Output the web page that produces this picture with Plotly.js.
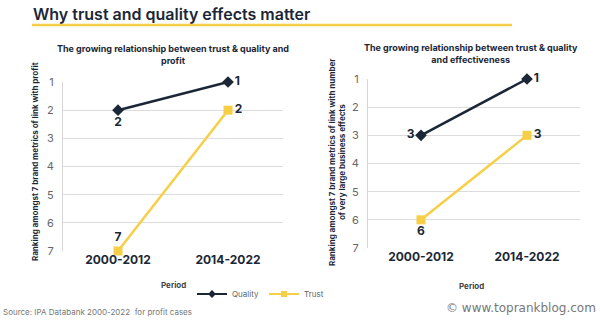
<!DOCTYPE html>
<html><head><meta charset="utf-8">
<script src="https://cdn.plot.ly/plotly-3.0.1.min.js"></script>
<style>html,body{margin:0;padding:0;background:#fff}#chart{width:600px;height:323px}</style>
</head><body><div id="chart"></div>
<script>
const periods = ["2000-2012", "2014-2022"];
const profitQuality = [2, 1];
const profitTrust = [7, 2];
const effQuality = [3, 1];
const effTrust = [6, 3];
const yTicks = [1, 2, 3, 4, 5, 6, 7];
const seriesNames = ["Quality", "Trust"];

const navy = "#1b2736";
const gold = "#f6cf47";
const font = "Inter, 'Open Sans', sans-serif";

function tr(y, xa, ya, name, color, sym, pos) {
  return {
    x: periods, y: y, xaxis: xa, yaxis: ya, name: name, showlegend: false,
    type: "scatter", mode: "lines+markers+text",
    line: {color: color, width: 2.5},
    marker: {color: color, symbol: sym, size: 9},
    text: y.map(String), textposition: pos,
    textfont: {family: font, size: 12, color: navy, weight: 700},
    cliponaxis: false
  };
}
function legendTrace(name, color, sym) {
  return {
    x: [null], y: [null], xaxis: "x", yaxis: "y", name: name, showlegend: true,
    type: "scatter", mode: "lines+markers",
    line: {color: color, width: 2}, marker: {color: color, symbol: sym, size: 6}
  };
}

const data = [
  tr(profitQuality, "x", "y", seriesNames[0], navy, "diamond", ["bottom center", "middle right"]),
  tr(profitTrust, "x", "y", seriesNames[1], gold, "square", ["top center", "middle right"]),
  tr(effQuality, "x2", "y2", seriesNames[0], navy, "diamond", ["middle left", "middle right"]),
  tr(effTrust, "x2", "y2", seriesNames[1], gold, "square", ["bottom center", "middle right"]),
  legendTrace(seriesNames[0], navy, "diamond"),
  legendTrace(seriesNames[1], gold, "square")
];

const xCommon = {
  type: "category", range: [-0.5, 1.5], showgrid: false, zeroline: false,
  showline: false, ticks: "",
  tickfont: {family: font, size: 12, color: navy, weight: 700}, fixedrange: true
};
const yCommon = {
  range: [7, 1], tickvals: yTicks, showgrid: true, gridcolor: "#dcdcdc", gridwidth: 1,
  zeroline: false, showline: true, linecolor: "#d6d6d6", linewidth: 1, ticks: "",
  tickfont: {family: font, size: 11, color: "#666"}, ticklabelstandoff: 6, fixedrange: true
};

const layout = {
  width: 600, height: 323,
  margin: {l: 0, r: 0, t: 0, b: 0},
  paper_bgcolor: "#ffffff", plot_bgcolor: "#ffffff",
  font: {family: font, color: navy},
  xaxis: Object.assign({}, xCommon, {domain: [63/600, 283/600], anchor: "y"}),
  yaxis: Object.assign({}, yCommon, {domain: [72/323, 241/323], anchor: "x"}),
  xaxis2: Object.assign({}, xCommon, {domain: [368/600, 580/600], anchor: "y2"}),
  yaxis2: Object.assign({}, yCommon, {domain: [75/323, 244/323], anchor: "x2"}),
  showlegend: true,
  legend: {
    orientation: "h", x: 192/600, xanchor: "left", y: (323-294)/323, yanchor: "middle",
    font: {family: font, size: 8, color: "#666"}, bgcolor: "rgba(0,0,0,0)",
    itemwidth: 30, tracegroupgap: 0
  },
  shapes: [
    {type: "line", xref: "paper", yref: "paper", x0: 32/600, x1: 512/600,
     y0: (323-25)/323, y1: (323-25)/323, line: {color: gold, width: 2.5}}
  ],
  annotations: [
    {text: "Why trust and quality effects matter", xref: "paper", yref: "paper",
     x: 31/600, y: (323-14)/323, xanchor: "left", yanchor: "middle", showarrow: false,
     font: {family: font, size: 16, color: navy, weight: 600}},
    {text: "The growing relationship between trust & quality and<br>profit", xref: "paper", yref: "paper",
     x: 173/600, y: (323-54)/323, xanchor: "center", yanchor: "middle", showarrow: false,
     font: {family: font, size: 9, color: navy, weight: 700}},
    {text: "The growing relationship between trust & quality<br>and effectiveness", xref: "paper", yref: "paper",
     x: 471/600, y: (323-53)/323, xanchor: "center", yanchor: "middle", showarrow: false,
     font: {family: font, size: 9, color: navy, weight: 700}},
    {text: "Ranking amongst 7 brand metrics of link with profit", xref: "paper", yref: "paper",
     x: 35/600, y: (323-162)/323, xanchor: "center", yanchor: "middle", textangle: -90, showarrow: false,
     font: {family: font, size: 8, color: navy, weight: 700}},
    {text: "Ranking amongst 7 brand metrics of link with number<br>of very large business effects", xref: "paper", yref: "paper",
     x: 337/600, y: (323-162)/323, xanchor: "center", yanchor: "middle", textangle: -90, showarrow: false,
     font: {family: font, size: 8, color: navy, weight: 700}},
    {text: "Period", xref: "paper", yref: "paper", x: 173/600, y: (323-285)/323,
     xanchor: "center", yanchor: "middle", showarrow: false,
     font: {family: font, size: 8, color: "#444", weight: 700}},
    {text: "Period", xref: "paper", yref: "paper", x: 471/600, y: (323-286)/323,
     xanchor: "center", yanchor: "middle", showarrow: false,
     font: {family: font, size: 8, color: "#444", weight: 700}},
    {text: "Source: IPA Databank 2000-2022  for profit cases", xref: "paper", yref: "paper",
     x: 1/600, y: (323-312)/323, xanchor: "left", yanchor: "middle", showarrow: false,
     font: {family: font, size: 8, color: "#777"}},
    {text: "© www.toprankblog.com", xref: "paper", yref: "paper",
     x: 598/600, y: (323-308)/323, xanchor: "right", yanchor: "middle", showarrow: false,
     font: {family: "'DejaVu Sans', sans-serif", size: 12, color: "#777"}}
  ]
};

Plotly.newPlot("chart", data, layout, {displayModeBar: false, staticPlot: true});
</script>
</body></html>
